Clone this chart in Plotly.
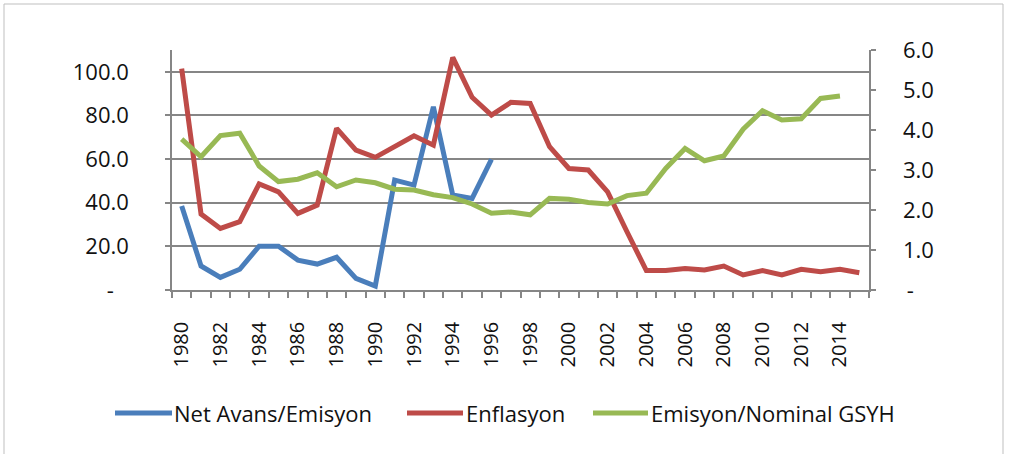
import plotly.graph_objects as go

years = list(range(1980, 2016))

# Net Avans/Emisyon (left axis), 1980-1996
net_avans_years = list(range(1980, 1997))
net_avans = [38.5, 11.0, 5.8, 9.5, 20.1, 20.1, 13.7, 11.9, 15.0, 5.3, 1.8,
             50.4, 48.1, 84.0, 43.5, 42.0, 59.9]

# Enflasyon (left axis), 1980-2015
enflasyon = [101.5, 34.8, 28.2, 31.3, 48.6, 45.0, 35.1, 38.9, 74.1, 64.1, 60.8,
             66.0, 70.7, 66.4, 106.6, 88.3, 80.2, 86.0, 85.5, 65.7, 55.7, 55.0,
             45.0, 26.7, 8.9, 8.9, 9.9, 9.2, 11.0, 6.9, 8.9, 6.9, 9.5, 8.4, 9.5, 7.9]

# Emisyon/Nominal GSYH (right axis), 1980-2014
emisyon_years = list(range(1980, 2015))
emisyon = [3.77, 3.33, 3.86, 3.92, 3.10, 2.71, 2.77, 2.93, 2.58, 2.75, 2.68,
           2.52, 2.50, 2.38, 2.31, 2.15, 1.92, 1.95, 1.88, 2.29, 2.27, 2.19,
           2.15, 2.36, 2.42, 3.04, 3.54, 3.23, 3.35, 4.02, 4.48, 4.25, 4.28,
           4.79, 4.85]

left_ticks = [0, 20, 40, 60, 80, 100]
left_ticktext = ["-\u00a0\u00a0\u2009", "20.0", "40.0", "60.0", "80.0", "100.0"]
right_ticks = [0, 1, 2, 3, 4, 5, 6]
right_ticktext = ["\u2009-", "1.0", "2.0", "3.0", "4.0", "5.0", "6.0"]
x_label_years = years[0:-1:2]
x_boundaries = [y - 0.5 for y in years] + [years[-1] + 0.5]

names = ["Net Avans/Emisyon", "Enflasyon", "Emisyon/Nominal GSYH"]
colors = ["#4A7EBB", "#BE4B48", "#98B954"]

FONT = "Open Sans"
GRAY = "#868686"
TXT = "#111111"
LW = 5

W, H = 1010, 454
ML, MR, MT, MB = 172, 141, 50, 164
PW, PH = W - ML - MR, H - MT - MB


def px(x):
    return (x - ML) / PW


def py(y):
    return (H - MB - y) / PH


RSP = "\u00a0" * 4

fig = go.Figure()
fig.add_trace(go.Scatter(x=net_avans_years, y=net_avans, mode="lines", name=names[0],
                         line=dict(color=colors[0], width=LW)))
fig.add_trace(go.Scatter(x=years, y=enflasyon, mode="lines", name=names[1],
                         line=dict(color=colors[1], width=LW)))
fig.add_trace(go.Scatter(x=emisyon_years, y=emisyon, mode="lines", name=names[2],
                         yaxis="y2", line=dict(color=colors[2], width=LW)))

# legend drawn as keys + real text
legend_line_x = [(115, 172), (407, 463), (593, 648)]
legend_text_x = [174, 466, 651]
legend_y = 413
shapes = [dict(type="rect", xref="paper", yref="paper",
               x0=px(4), x1=px(1003), y0=py(470), y1=py(4),
               line=dict(color="#BFBFBF", width=1), fillcolor="rgba(0,0,0,0)",
               layer="below")]
annotations = []
for (x0, x1), tx, name, col in zip(legend_line_x, legend_text_x, names, colors):
    shapes.append(dict(type="line", xref="paper", yref="paper",
                       x0=px(x0), x1=px(x1), y0=py(legend_y), y1=py(legend_y),
                       line=dict(color=col, width=LW)))
    annotations.append(dict(xref="paper", yref="paper", x=px(tx - 2), y=py(legend_y),
                            xanchor="left", yanchor="middle", text=name, showarrow=False,
                            font=dict(family=FONT, size=22, color=TXT)))

fig.update_layout(
    width=W, height=H,
    margin=dict(l=ML, r=MR, t=MT, b=MB),
    paper_bgcolor="white", plot_bgcolor="white",
    font=dict(family=FONT, size=22, color=TXT),
    showlegend=False,
    xaxis=dict(
        range=[years[0] - 0.5, years[-1] + 0.5],
        tickmode="array", tickvals=x_label_years,
        ticktext=[str(y) for y in x_label_years],
        tickangle=-90, ticks="", ticklabelstandoff=22,
        tickfont=dict(family=FONT, size=20, color=TXT),
        showline=True, linecolor=GRAY, linewidth=1.5,
        showgrid=False, zeroline=False,
        minor=dict(tickmode="array", tickvals=x_boundaries, ticks="outside",
                   ticklen=6, tickwidth=1.5, tickcolor=GRAY, showgrid=False),
    ),
    yaxis=dict(
        range=[0, 110], tickmode="array", tickvals=left_ticks, ticktext=left_ticktext,
        ticks="outside", ticklen=5, tickwidth=1.5, tickcolor=GRAY,
        ticklabelstandoff=32,
        showline=True, linecolor=GRAY, linewidth=1.5,
        showgrid=True, gridcolor=GRAY, gridwidth=1.5, zeroline=False,
        tickfont=dict(family=FONT, size=22, color=TXT),
    ),
    yaxis2=dict(
        range=[0, 6], overlaying="y", side="right",
        tickmode="array", tickvals=right_ticks,
        ticktext=[RSP + t for t in right_ticktext],
        ticks="outside", ticklen=5, tickwidth=1.5, tickcolor=GRAY,
        showline=True, linecolor=GRAY, linewidth=1.5,
        showgrid=False, zeroline=False,
        tickfont=dict(family=FONT, size=22, color=TXT),
    ),
    shapes=shapes,
    annotations=annotations,
)

fig.write_html("out.html", config={"displayModeBar": False},
               post_script="document.body.style.margin='0';")
